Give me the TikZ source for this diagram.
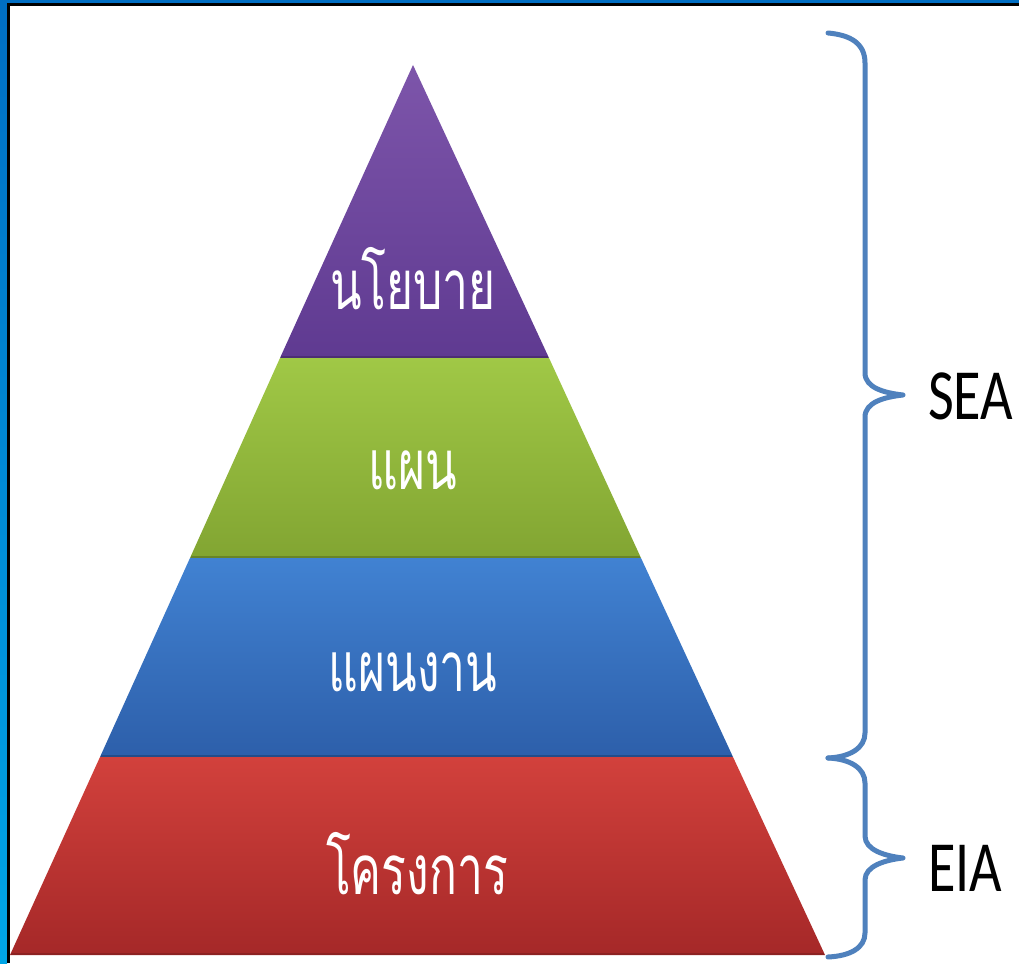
\documentclass[tikz,border=0pt]{standalone}
\usepackage{fontspec}
\newfontfamily\thaifont[Script=Thai]{Loma}
\setmainfont{Carlito}
\definecolor{braceblue}{RGB}{79,129,189}
\definecolor{purpT}{RGB}{125,85,170}
\definecolor{purpB}{RGB}{95,58,145}
\definecolor{greenT}{RGB}{160,200,70}
\definecolor{greenB}{RGB}{130,165,50}
\definecolor{blueT}{RGB}{65,130,210}
\definecolor{blueB}{RGB}{45,95,170}
\definecolor{redT}{RGB}{210,65,60}
\definecolor{redB}{RGB}{165,40,40}
\definecolor{frameT}{RGB}{0,110,195}
\definecolor{frameB}{RGB}{0,165,230}
\tikzset{
  layerlabel/.style={text=white, font=\thaifont\fontsize{69}{69}\selectfont, anchor=base, inner sep=0pt, xscale=0.67},
  sidelabel/.style={text=black, font=\fontsize{72}{72}\selectfont, anchor=base west, inner sep=0pt, xscale=0.78},
  brace/.style={draw=braceblue, line width=5pt, line cap=round, line join=round},
}
\begin{document}
\begin{tikzpicture}[x=1pt,y=1pt]
\useasboundingbox (0,0) rectangle (1019,963);
\fill[white] (0,0) rectangle (1019,963);
% frame
\shade[top color=frameT, bottom color=frameB] (0,0) rectangle (7,963);
\fill[frameT] (0,960) rectangle (1019,963);
\fill[black] (7,0) rectangle (9.5,960);
\fill[black] (7,957) rectangle (1019,960);
% pyramid layers
\shade[top color=purpT, bottom color=purpB] (413,898) -- (549,605) -- (280,605) -- cycle;
\shade[top color=greenT, bottom color=greenB] (280,605) -- (549,605) -- (641,405) -- (190,405) -- cycle;
\shade[top color=blueT, bottom color=blueB] (190,405) -- (641,405) -- (733,206) -- (100,206) -- cycle;
\shade[top color=redT, bottom color=redB] (100,206) -- (733,206) -- (825,8) -- (10,8) -- cycle;
\draw[purpB!80!black, line width=1.5pt] (281,605.8) -- (548,605.8);
\draw[greenB!80!black, line width=1.5pt] (191,405.8) -- (640,405.8);
\draw[blueB!80!black, line width=1.5pt] (101,206.8) -- (732,206.8);
\draw[redB!85!black, line width=1.5pt] (11,8.8) -- (824,8.8);
% labels
\node[layerlabel] (policy) at (413,653) {นโยบาย};
\node[layerlabel] (plan) at (413,473) {แผน};
\node[layerlabel] (program) at (413,271) {แผนงาน};
\node[layerlabel] (project) at (417,68) {โครงการ};
% braces
\draw[brace] (828,930) .. controls (850,928) and (865,920) .. (865,900)
  -- (865,590) .. controls (865,575) and (885,570) .. (903,568)
  .. controls (885,566) and (865,561) .. (865,546)
  -- (865,230) .. controls (865,215) and (850,206) .. (828,205);
\draw[brace] (828,205) .. controls (850,204) and (865,195) .. (865,180)
  -- (865,127) .. controls (865,113) and (885,107) .. (903,105)
  .. controls (885,103) and (865,97) .. (865,83)
  -- (865,30) .. controls (865,15) and (850,7) .. (828,6);
\node[sidelabel] (sea) at (928,543) {SEA};
\node[sidelabel] (eia) at (928,71) {EIA};
\end{tikzpicture}
\end{document}
